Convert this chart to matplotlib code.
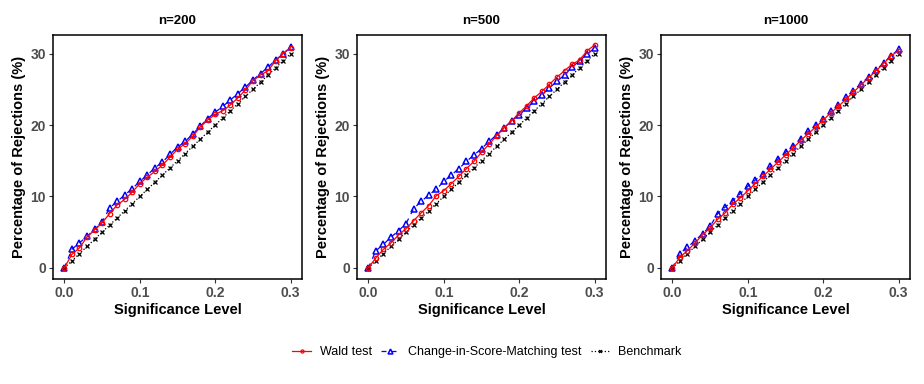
import numpy as np
import matplotlib.pyplot as plt

plt.rcParams['font.family'] = ['Liberation Sans', 'DejaVu Sans']

# significance levels 0.00 .. 0.30
alpha = [0.00, 0.01, 0.02, 0.03, 0.04, 0.05, 0.06, 0.07, 0.08, 0.09, 0.10,
         0.11, 0.12, 0.13, 0.14, 0.15, 0.16, 0.17, 0.18, 0.19, 0.20,
         0.21, 0.22, 0.23, 0.24, 0.25, 0.26, 0.27, 0.28, 0.29, 0.30]

titles = ['n=200', 'n=500', 'n=1000']

wald_200 = [0, 1.9, 2.8, 4.3, 5.3, 6.3, 7.6, 8.8, 9.6, 10.6, 11.8, 12.7, 13.5, 14.4,
            15.5, 16.6, 17.4, 18.4, 19.7, 20.7, 21.5, 22.0, 22.8, 23.8, 24.9,
            26.2, 27.0, 27.6, 29.0, 30.0, 30.8]
csm_200 = [0, 2.6, 3.5, 4.4, 5.4, 6.4, 8.4, 9.3, 10.2, 11.1, 12.1, 13.0, 14.0, 14.8,
           15.9, 16.9, 17.7, 18.7, 19.8, 20.9, 21.8, 22.6, 23.5, 24.4, 25.3,
           26.3, 27.2, 28.1, 29.1, 30.0, 30.9]

wald_500 = [0, 1.4, 2.6, 3.5, 4.6, 5.5, 6.6, 7.7, 8.7, 10.1, 10.8, 11.8, 12.8, 13.9,
            14.9, 16.2, 17.3, 18.5, 19.6, 20.6, 21.7, 22.7, 23.8, 24.7, 25.7,
            26.7, 27.6, 28.5, 29.1, 30.4, 31.2]
csm_500 = [0, 2.4, 3.3, 4.3, 5.2, 6.2, 8.3, 9.3, 10.2, 11.0, 12.1, 13.0, 13.9, 14.9,
           15.8, 16.7, 17.7, 18.6, 19.6, 20.6, 21.4, 22.4, 23.3, 24.2, 25.2,
           26.1, 27.0, 28.1, 29.0, 29.9, 30.8]

wald_1000 = [0, 1.5, 2.4, 3.5, 4.6, 5.6, 6.8, 7.7, 8.9, 9.8, 10.8, 11.8, 12.8, 13.8,
             14.8, 15.8, 16.8, 17.8, 18.8, 19.7, 20.7, 21.7, 22.6, 23.6, 24.6,
             25.6, 26.6, 27.6, 28.6, 29.7, 30.4]
csm_1000 = [0, 2.0, 2.9, 3.8, 4.8, 5.8, 7.6, 8.5, 9.4, 10.4, 11.4, 12.3, 13.2, 14.2,
            15.2, 16.2, 17.1, 18.1, 19.1, 20.0, 20.9, 21.9, 22.8, 23.9, 24.8,
            25.8, 26.7, 27.7, 28.7, 29.7, 30.6]

benchmark = [0, 1, 2, 3, 4, 5, 6, 7, 8, 9, 10, 11, 12, 13, 14, 15, 16, 17, 18, 19,
             20, 21, 22, 23, 24, 25, 26, 27, 28, 29, 30]

wald = [wald_200, wald_500, wald_1000]
csm = [csm_200, csm_500, csm_1000]

fig = plt.figure(figsize=(9.24, 3.84), dpi=100)
lefts = [53, 357, 661]
width = 249
bottom_px, top_px = 279, 35
W, H = 924, 384

tick_col = '#4d4d4d'
for i in range(3):
    ax = fig.add_axes([lefts[i] / W, 1 - bottom_px / H, width / W, (bottom_px - top_px) / H])
    ax.plot(alpha, benchmark, color='black', linestyle=':', linewidth=0.9,
            marker='x', markersize=3, markeredgewidth=0.9, label='Benchmark')
    ax.plot(alpha, csm[i], color='blue', linestyle=(0, (4, 4)), linewidth=0.9,
            marker='^', markersize=5, markerfacecolor='none', markeredgewidth=1.1,
            label='Change-in-Score-Matching test')
    ax.plot(alpha, wald[i], color='red', linestyle='-', linewidth=0.9,
            marker='o', markersize=3.2, markerfacecolor='none', markeredgewidth=0.9,
            label='Wald test')
    ax.set_xlim(-0.015, 0.315)
    ax.set_ylim(-1.55, 32.6)
    ax.set_xticks([0.0, 0.1, 0.2, 0.3])
    ax.set_xticklabels(['0.0', '0.1', '0.2', '0.3'])
    ax.set_yticks([0, 10, 20, 30])
    ax.tick_params(direction='out', length=3, width=0.8, color='#333333',
                   labelsize=10, labelcolor=tick_col, pad=2)
    for lbl in ax.get_xticklabels() + ax.get_yticklabels():
        lbl.set_fontweight('bold')
    for s in ax.spines.values():
        s.set_linewidth(1.1)
        s.set_color('black')
    ax.set_title(titles[i], fontsize=9.5, fontweight='bold', pad=8)
    ax.set_xlabel('Significance Level', fontsize=10.5, fontweight='bold', labelpad=2)
    ax.set_ylabel('Percentage of Rejections (%)', fontsize=10.5, fontweight='bold', labelpad=3)

handles, labels = ax.get_legend_handles_labels()
order = [2, 1, 0]
fig.legend([handles[k] for k in order], [labels[k] for k in order],
           loc='center', bbox_to_anchor=(0.527, 1 - 352 / H), ncol=3,
           frameon=False, fontsize=9, handlelength=1.5, columnspacing=0.7,
           handletextpad=0.7, markerscale=0.7)

fig.savefig('out.png', dpi=100, facecolor='white')
